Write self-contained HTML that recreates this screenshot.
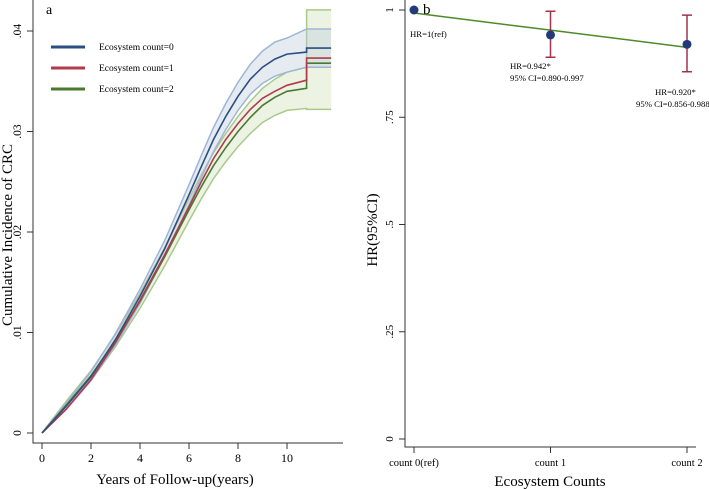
<!DOCTYPE html>
<html><head><meta charset="utf-8"><style>
html,body{margin:0;padding:0;background:#fff;}
svg{display:block;font-family:"Liberation Serif",serif;}
</style></head><body>
<svg id="chart" width="709" height="489" viewBox="0 0 709 489" xmlns="http://www.w3.org/2000/svg">
<g id="left"></g>
<g id="right"></g>
</svg>
<script>
// Panel a data
const years = [0,1,2,3,4,5,6,6.5,7,7.5,8,8.5,9,9.5,10,10.8,10.8,11.8];
const blueVals = [0,.0027,.0056,.0093,.0136,.0183,.0237,.0265,.0292,.0315,.0335,.0352,.0364,.0372,.0377,.0379,.0383,.0383];
const redVals = [0,.0024,.0053,.0090,.0132,.0177,.0225,.0250,.0273,.0292,.0308,.0322,.0333,.0340,.0346,.0351,.0373,.0373];
const greenVals = [0,.0028,.0057,.0092,.0131,.0175,.0222,.0245,.0266,.0284,.0300,.0314,.0326,.0334,.0340,.0343,.0368,.0368];
const blueLo = [0,.0024,.0052,.0088,.0129,.0175,.0227,.0254,.0280,.0302,.0321,.0337,.0348,.0355,.0359,.0364,.0364,.0364];
const blueHi = [0,.0030,.0061,.0099,.0143,.0191,.0247,.0276,.0304,.0328,.0349,.0367,.0380,.0389,.0393,.0402,.0402,.0402];
const greenLo = [0,.0024,.0052,.0086,.0124,.0166,.0211,.0233,.0253,.0270,.0285,.0298,.0309,.0316,.0321,.0323,.0322,.0322];
const greenHi = [0,.0032,.0062,.0098,.0139,.0184,.0233,.0257,.0279,.0298,.0315,.0330,.0343,.0352,.0359,.0364,.0421,.0421];
const yTicksA = [0,.01,.02,.03,.04];
const yTickLabelsA = ["0",".01",".02",".03",".04"];
const xTicksA = [0,2,4,6,8,10];
// Panel b data
const counts = ["count 0(ref)","count 1","count 2"];
const hr = [1,0.942,0.920];
const ciLo = [1,0.890,0.856];
const ciHi = [1,0.997,0.988];
const fitVals = [0.993,0.953,0.913];
const yTicksB = [0,0.25,0.5,0.75,1];
const yTickLabelsB = ["0",".25",".5",".75","1"];

const NS="http://www.w3.org/2000/svg";
function mk(parent,tag,attrs,text){const e=document.createElementNS(NS,tag);for(const k in attrs)e.setAttribute(k,attrs[k]);if(text!==undefined)e.textContent=text;parent.appendChild(e);return e;}

// ---- Panel a ----
const L=document.getElementById('left');
const xA=t=>42+t*24.5;
const yA=v=>433-v*10050;
function pts(xs,ys){return xs.map((t,i)=>xA(t).toFixed(1)+','+yA(ys[i]).toFixed(1)).join(' ');}
function band(lo,hi,fill,stroke,name){
  const p=pts(years,hi)+' '+years.map((t,i)=>xA(t).toFixed(1)+','+yA(lo[i]).toFixed(1)).reverse().join(' ');
  const b=mk(L,'polygon',{points:p,fill:fill,'fill-opacity':0.35,stroke:'none'});
  
  
  const u=mk(L,'polyline',{points:pts(years,hi),fill:'none',stroke:stroke,'stroke-width':1.5});
  
  
  const d=mk(L,'polyline',{points:pts(years,lo),fill:'none',stroke:stroke,'stroke-width':1.5});
  
  
}
band(greenLo,greenHi,'#c9dcb0','#a9c98c','green-ci-band');
band(blueLo,blueHi,'#b8c6d9','#9fb6d3','blue-ci-band');
[[greenVals,'#4a7a32','line-count-2'],[redVals,'#b23a4a','line-count-1'],[blueVals,'#2b4f80','line-count-0']].forEach(s=>{
  const l=mk(L,'polyline',{points:pts(years,s[0]),fill:'none',stroke:s[1],'stroke-width':1.6});
  
  
});
const ax=mk(L,'path',{d:'M33,0 V443 H343',fill:'none',stroke:'#333','stroke-width':1});


yTicksA.forEach((v,i)=>{
  mk(L,'line',{x1:27,x2:33,y1:yA(v),y2:yA(v),stroke:'#333'});
  const t=mk(L,'text',{x:0,y:0,'font-size':11.5,'text-anchor':'middle',transform:`translate(21,${yA(v)}) rotate(-90)`},yTickLabelsA[i]);
  
  
});
xTicksA.forEach(v=>{
  mk(L,'line',{x1:xA(v),x2:xA(v),y1:443,y2:449,stroke:'#333'});
  const t=mk(L,'text',{x:xA(v),y:462,'font-size':12,'text-anchor':'middle'},String(v));
  
  
});
</script>
<script>
(function(){
const L=document.getElementById('left');
let t=mk(L,'text',{x:175,y:484,'font-size':15,'text-anchor':'middle'},'Years of Follow-up(years)');


t=mk(L,'text',{x:0,y:0,'font-size':15,'text-anchor':'middle',transform:'translate(12,235) rotate(-90)'},'Cumulative Incidence of CRC');


t=mk(L,'text',{x:46,y:14,'font-size':14},'a');


[['#2b4f80','Ecosystem count=0',47],['#b23a4a','Ecosystem count=1',68],['#4a7a32','Ecosystem count=2',89]].forEach(e=>{
  const g=mk(L,'g',{});
  
  
  mk(g,'line',{x1:51,x2:85,y1:e[2],y2:e[2],stroke:e[0],'stroke-width':3});
  mk(g,'text',{x:99,y:e[2]+3,'font-size':9.5},e[1]);
});

// ---- Panel b ----
const R=document.getElementById('right');
const xB=i=>414+i*136.5;
const yB=v=>439-v*429;
const a=mk(R,'path',{d:'M405,0 V447 H696',fill:'none',stroke:'#333','stroke-width':1});


yTicksB.forEach((v,i)=>{
  mk(R,'line',{x1:399,x2:405,y1:yB(v),y2:yB(v),stroke:'#333'});
  const s=mk(R,'text',{x:0,y:0,'font-size':11,'text-anchor':'middle',transform:`translate(393,${yB(v)}) rotate(-90)`},yTickLabelsB[i]);
  
  
});
counts.forEach((c,i)=>{
  mk(R,'line',{x1:xB(i),x2:xB(i),y1:447,y2:453,stroke:'#333'});
  const s=mk(R,'text',{x:xB(i),y:466,'font-size':10.5,'text-anchor':'middle'},c);
  
  
});
const fit=mk(R,'polyline',{points:fitVals.map((v,i)=>xB(i)+','+yB(v)).join(' '),fill:'none',stroke:'#4f8a2a','stroke-width':1.5});


hr.forEach((v,i)=>{
  if(ciHi[i]!==ciLo[i]){
    const e=mk(R,'path',{d:`M${xB(i)},${yB(ciHi[i])} V${yB(ciLo[i])} M${xB(i)-5},${yB(ciHi[i])} h10 M${xB(i)-5},${yB(ciLo[i])} h10`,stroke:'#a03448','stroke-width':1.5,fill:'none'});
    
    
  }
  const p=mk(R,'circle',{cx:xB(i),cy:yB(v),r:4.5,fill:'#233a7a'});
  
  
});
const notes=[[410,37,'HR=1(ref)'],[510,69,'HR=0.942*'],[510,81,'95% CI=0.890-0.997'],[655,95,'HR=0.920*'],[636,107,'95% CI=0.856-0.988']];
notes.forEach(n=>{
  const s=mk(R,'text',{x:n[0],y:n[1],'font-size':8.7},n[2]);
  
  
});
t=mk(R,'text',{x:423,y:14,'font-size':15},'b');


t=mk(R,'text',{x:550,y:486,'font-size':15,'text-anchor':'middle'},'Ecosystem Counts');


t=mk(R,'text',{x:0,y:0,'font-size':15,'text-anchor':'middle',transform:'translate(377,230) rotate(-90)'},'HR(95%CI)');


})();
</script>
</body></html>
